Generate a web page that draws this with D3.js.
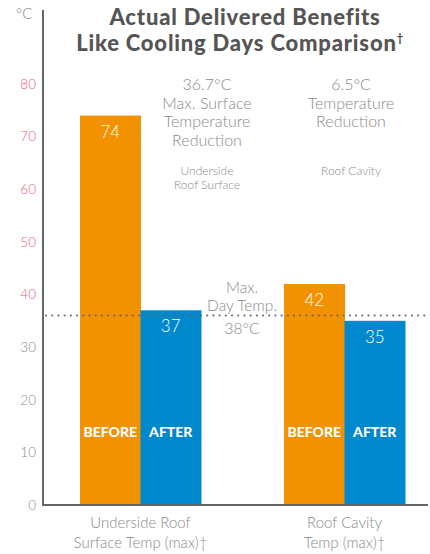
<!DOCTYPE html>
<html>
<head>
<meta charset="utf-8">
<script src="https://cdn.jsdelivr.net/npm/d3@7"></script>
<style>
  body { margin: 0; background: #fff; }
  svg { display: block; font-family: Lato, "Open Sans", sans-serif; }
</style>
</head>
<body>
<div class="chart"></div>
<script>
// chart values
var categories = ["Underside Roof Surface Temp (max)", "Roof Cavity Temp (max)"];
var phases = ["BEFORE", "AFTER"];
var beforeValues = [74, 42];
var afterValues = [37, 35];
var yTicks = [0, 10, 20, 30, 40, 50, 60, 70, 80];
var refValue = 36;   // dotted line, as placed in the picture
var refLabel = ["Max.", "Day Temp.", "38°C"];
var catLabels = [["Underside Roof", "Surface Temp (max)†"], ["Roof Cavity", "Temp (max)†"]];
var reductions = [
  {value: "36.7°C", lines: ["Max. Surface", "Temperature", "Reduction"], sub: ["Underside", "Roof Surface"]},
  {value: "6.5°C", lines: ["Temperature", "Reduction"], sub: ["Roof Cavity"]}
];

var width = 430, height = 554;
var orange = "#f39200", blue = "#0088cc", grey = "#8a8a8a", pink = "#ea5a72";

var svg = d3.select(".chart").append("svg").attr("width", width).attr("height", height);

//scales
var x = d3.scaleBand().domain(categories).range([80, 405]).paddingInner(0.407).paddingOuter(0);
var xSub = d3.scaleBand().domain(phases).range([0, x.bandwidth()]);
var y = d3.scaleLinear().domain([0, 80]).range([505, 84]);

var data = categories.map(function(c, i) {
  return [{cat: c, phase: "BEFORE", value: beforeValues[i]}, {cat: c, phase: "AFTER", value: afterValues[i]}];
});

//bars
var groups = svg.selectAll(".grp").data(data).enter().append("g")
  .attr("transform", function(d, i) { return "translate(" + x(categories[i]) + ",0)"; });

groups.selectAll("rect").data(function(d) { return d; }).enter().append("rect")
  .attr("x", function(d) { return xSub(d.phase); })
  .attr("width", xSub.bandwidth() + 0.5)
  .attr("y", function(d) { return y(d.value); })
  .attr("height", function(d) { return y(0) - y(d.value); })
  .attr("fill", function(d) { return d.phase == "BEFORE" ? orange : blue; });

// value labels
groups.selectAll(".val").data(function(d) { return d; }).enter().append("text")
  .attr("x", function(d) { return xSub(d.phase) + xSub.bandwidth() / 2; })
  .attr("y", function(d) { return y(d.value) + 22; })
  .attr("text-anchor", "middle")
  .style("font-size", "17px").style("font-weight", 300).style("fill", "#fff")
  .text(function(d) { return d.value; });

// before / after labels
groups.selectAll(".ph").data(function(d) { return d; }).enter().append("text")
  .attr("x", function(d) { return xSub(d.phase) + xSub.bandwidth() / 2; })
  .attr("y", 437)
  .attr("text-anchor", "middle")
  .style("font-size", "14px").style("font-weight", 900).style("fill", "#fff")
  .text(function(d) { return d.phase; });

//y axis ticks
var yAxis = d3.axisLeft(y).tickValues(yTicks).tickSize(0).tickPadding(7);
var yg = svg.append("g").attr("transform", "translate(43,0)").call(yAxis);
yg.select(".domain").remove();
yg.selectAll("text")
  .style("font-family", "Lato, sans-serif").style("font-size", "13.5px").style("font-weight", 300)
  .style("fill", function(d) { return d >= 40 ? pink : grey; });

// axis lines
svg.append("line").attr("x1", 43).attr("x2", 43).attr("y1", 10).attr("y2", y(0) + 1)
  .attr("stroke", "#666").attr("stroke-width", 2);
svg.append("line").attr("x1", 42).attr("x2", 428).attr("y1", y(0)).attr("y2", y(0))
  .attr("stroke", "#666").attr("stroke-width", 2);

svg.append("text").attr("x", 16).attr("y", 19)
  .style("font-size", "15px").style("font-weight", 300).style("fill", grey).text("°C");

//dotted reference line
svg.append("line").attr("x1", 46).attr("x2", 428).attr("y1", y(refValue)).attr("y2", y(refValue))
  .attr("stroke", "#666").attr("stroke-width", 2).attr("stroke-linecap", "round")
  .attr("stroke-dasharray", "0.1 6.1");

svg.selectAll(".ref").data(refLabel).enter().append("text")
  .attr("x", 242)
  .attr("y", function(d, i) { return [293, 311, 334][i]; })
  .attr("text-anchor", "middle")
  .style("font-size", "15.5px").style("font-weight", 300).style("fill", grey)
  .text(function(d) { return d; });

// category labels
catLabels.forEach(function(lines, i) {
  svg.selectAll(".cat" + i).data(lines).enter().append("text")
    .attr("x", x(categories[i]) + x.bandwidth() / 2)
    .attr("y", function(d, j) { return 528 + j * 20; })
    .attr("text-anchor", "middle")
    .style("font-size", "15px").style("font-weight", 300).style("fill", grey)
    .text(function(d) { return d; });
});

// reduction notes
var noteX = [207, 351];
reductions.forEach(function(r, i) {
  var all = [r.value].concat(r.lines);
  svg.selectAll(".note" + i).data(all).enter().append("text")
    .attr("x", noteX[i])
    .attr("y", function(d, j) { return 90 + j * 18.5; })
    .attr("text-anchor", "middle")
    .style("font-size", "16px").style("font-weight", 300).style("fill", grey)
    .text(function(d) { return d; });
  svg.selectAll(".sub" + i).data(r.sub).enter().append("text")
    .attr("x", noteX[i])
    .attr("y", function(d, j) { return 175 + j * 13.5; })
    .attr("text-anchor", "middle")
    .style("font-size", "12px").style("font-weight", 300).style("fill", grey)
    .text(function(d) { return d; });
});

// title
var title = svg.append("g").style("font-size", "22px").style("font-weight", 900)
  .style("letter-spacing", "0.8px").style("fill", "#555");
title.append("text").attr("x", 245).attr("y", 25).attr("text-anchor", "middle").text("Actual Delivered Benefits");
var t2 = title.append("text").attr("x", 240).attr("y", 51).attr("text-anchor", "middle").text("Like Cooling Days Comparison");
t2.append("tspan").attr("dy", -9).style("font-size", "11px").text("†");
</script>
</body>
</html>
